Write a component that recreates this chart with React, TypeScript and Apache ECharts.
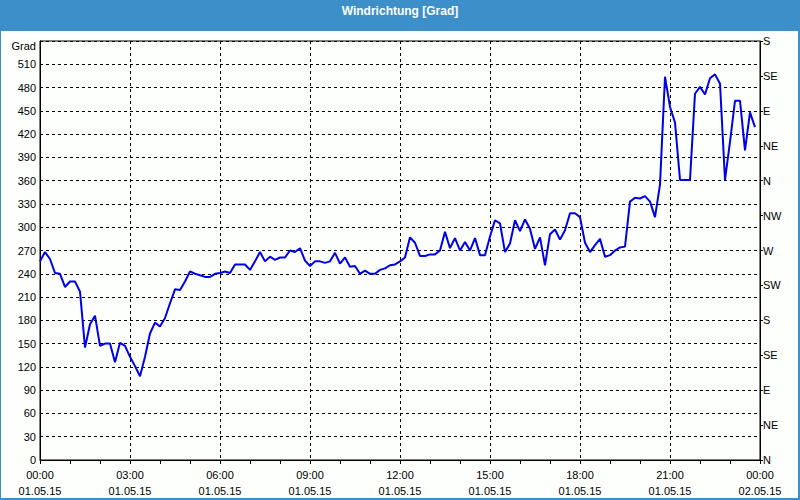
import React, { useEffect, useRef } from 'react';
import * as echarts from 'echarts';

const chartTitle = 'Windrichtung [Grad]';
const axisName = 'Grad';
const startDate = '01.05.15';
const endDate = '02.05.15';
const stepMinutes = 10;
const directions = ['N', 'NE', 'E', 'SE', 'S', 'SW', 'W', 'NW', 'N', 'NE', 'E', 'SE', 'S'];

// wind direction in degrees, one value every 10 minutes from 00:00 to 23:50
const windDirection = [
  256, 268, 259, 241, 240, 223, 230, 230, 217, 145,
  175, 186, 147, 150, 150, 126, 151, 147, 133, 121,
  108, 133, 163, 177, 172, 183, 202, 220, 219, 230,
  243, 240, 238, 236, 236, 240, 241, 243, 241, 252,
  252, 252, 245, 256, 268, 256, 262, 258, 261, 261,
  270, 268, 273, 257, 250, 256, 256, 254, 256, 267,
  253, 261, 249, 250, 240, 244, 240, 240, 245, 247,
  251, 252, 256, 261, 287, 280, 263, 263, 265, 265,
  270, 294, 273, 286, 270, 281, 270, 286, 264, 264,
  288, 309, 305, 268, 279, 309, 295, 310, 298, 272,
  287, 251, 291, 297, 284, 296, 318, 318, 313, 280,
  268, 277, 285, 262, 264, 270, 274, 275, 333, 338,
  337, 340, 333, 313, 355, 494, 455, 435, 361, 361,
  361, 472, 481, 471, 492, 497, 485, 361, 410, 463,
  463, 399, 448, 429,
];

const FONT = 'Liberation Sans';

export default function App() {
  const ref = useRef<HTMLDivElement>(null);
  useEffect(() => {
    const chart = echarts.init(ref.current!, null, { renderer: 'svg' });
    const data = windDirection.map((v, i) => [(i * stepMinutes) / 60, v]);
    chart.setOption({
      animation: false,
      backgroundColor: '#fcfffc',
      textStyle: { fontFamily: FONT },
      graphic: [
        { type: 'rect', shape: { x: 0, y: 0, width: 800, height: 31 }, style: { fill: '#3c8fc8' }, silent: true },
        { type: 'rect', shape: { x: 0, y: 0, width: 1, height: 500 }, style: { fill: '#3c8fc8' }, silent: true },
        { type: 'rect', shape: { x: 798, y: 0, width: 2, height: 500 }, style: { fill: '#3c8fc8' }, silent: true },
        { type: 'rect', shape: { x: 0, y: 498, width: 800, height: 2 }, style: { fill: '#3c8fc8' }, silent: true },
        {
          type: 'text', x: 400, y: 11,
          style: { text: chartTitle, fill: '#ffffff', font: `bold 12px "${FONT}"`, textAlign: 'center', textVerticalAlign: 'middle' },
          silent: true,
        },
      ],
      grid: { left: 40, right: 40, top: 41, bottom: 40, show: true, borderColor: '#000', borderWidth: 1, backgroundColor: 'transparent' },
      xAxis: {
        type: 'value', min: 0, max: 24, interval: 3,
        axisLine: { show: true, lineStyle: { color: '#000', width: 1 } },
        axisTick: { show: true, length: 4, lineStyle: { color: '#000' } },
        minorTick: { show: true, splitNumber: 3, length: 4, lineStyle: { color: '#000' } },
        splitLine: { show: true, lineStyle: { color: '#000', type: [3, 3], width: 1 } },
        axisLabel: {
          color: '#000', fontSize: 11, fontFamily: FONT, lineHeight: 16, margin: 7,
          formatter: (v: number) => {
            const h = Math.round(v) % 24;
            const hh = (h < 10 ? '0' : '') + h + ':00';
            return hh + '\n' + (v >= 24 ? endDate : startDate);
          },
        },
      },
      yAxis: [
        {
          type: 'value', min: 0, max: 540, interval: 30,
          axisLine: { show: true, lineStyle: { color: '#000', width: 1 } },
          axisTick: { show: false },
          splitLine: { show: true, lineStyle: { color: '#000', type: [3, 3], width: 1 } },
          axisLabel: {
            color: '#000', fontSize: 11, fontFamily: FONT, margin: 4,
            formatter: (v: number) => (v === 540 ? '{g|' + axisName + '}' : String(v)),
            rich: { g: { color: '#000', fontSize: 11, fontFamily: FONT, padding: [10, 0, 0, 0] } },
          },
        },
        {
          type: 'value', position: 'right', min: 0, max: 540, interval: 45,
          axisLine: { show: true, lineStyle: { color: '#000', width: 1 } },
          axisTick: { show: true, length: 3, lineStyle: { color: '#000' } },
          splitLine: { show: false },
          axisLabel: {
            color: '#000', fontSize: 11, fontFamily: FONT, margin: 3,
            formatter: (v: number) => directions[Math.round(v / 45)] ?? '',
          },
        },
      ],
      series: [
        {
          type: 'line', data, yAxisIndex: 0, showSymbol: false, z: 5,
          lineStyle: { color: '#0000e8', width: 2 },
        },
      ],
    });
    return () => chart.dispose();
  }, []);
  return <div ref={ref} style={{ position: 'fixed', left: 0, top: 0, width: 800, height: 500 }} />;
}
